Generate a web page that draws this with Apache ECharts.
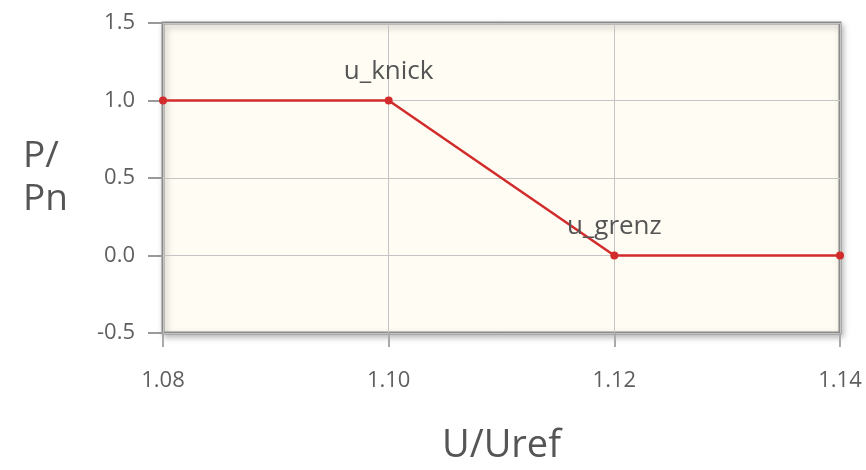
<!DOCTYPE html>
<html><head><meta charset="utf-8">
<script src="https://cdn.jsdelivr.net/npm/echarts@6/dist/echarts.min.js"></script>
<style>html,body{margin:0;padding:0;background:#fff}#c{width:866px;height:470px}</style>
</head><body><div id="c"></div>
<script>
const xValues = [1.08, 1.10, 1.12, 1.14];
const yValues = [1.0, 1.0, 0.0, 0.0];
const pointLabels = ['', 'u_knick', 'u_grenz', ''];
const xTitle = 'U/Uref';
const yTitle = 'P/\nPn';

const chart = echarts.init(document.getElementById('c'));
const font = 'Open Sans';
chart.setOption({
  animation: false,
  grid: {
    left: 163, right: 26, top: 23, bottom: 135,
    show: true, backgroundColor: '#fffcf4', borderColor: '#8a8a8a', borderWidth: 3,
    shadowColor: 'rgba(0,0,0,0.25)', shadowBlur: 6, shadowOffsetX: 2, shadowOffsetY: 3
  },
  xAxis: {
    type: 'value', min: 1.08, max: 1.14, interval: 0.02,
    name: xTitle, nameLocation: 'middle', nameGap: 94,
    nameTextStyle: { fontFamily: font, fontSize: 38, color: '#555' },
    axisLine: { show: false, onZero: false },
    axisTick: { show: true, length: 14, lineStyle: { color: '#aaa', width: 2 } },
    axisLabel: { margin: 37, fontFamily: font, fontSize: 22, color: '#5f5f5f',
      formatter: v => v.toFixed(2) },
    splitLine: { show: true, lineStyle: { color: '#c4c4c4', width: 1 } }
  },
  yAxis: {
    type: 'value', min: -0.5, max: 1.5, interval: 0.5,
    name: yTitle, nameLocation: 'middle', nameRotate: 0, nameGap: 140,
    nameTextStyle: { fontFamily: font, fontSize: 37, color: '#555', lineHeight: 43, align: 'left' },
    axisLine: { show: false, onZero: false },
    axisTick: { show: true, length: 15, lineStyle: { color: '#999', width: 2 } },
    axisLabel: { margin: 28, fontFamily: font, fontSize: 22, color: '#5f5f5f',
      formatter: v => v.toFixed(1) },
    splitLine: { show: true, lineStyle: { color: '#c4c4c4', width: 1 } }
  },
  series: [{
    type: 'line',
    data: xValues.map((x, i) => [x, yValues[i]]),
    lineStyle: { color: '#d22b2b', width: 2.5 },
    itemStyle: { color: '#d22b2b' },
    symbol: 'circle', symbolSize: 8, clip: false,
    label: {
      show: true, position: 'top', distance: 12,
      fontFamily: font, fontSize: 26, color: '#555',
      formatter: p => pointLabels[p.dataIndex]
    }
  }]
});
</script></body></html>
